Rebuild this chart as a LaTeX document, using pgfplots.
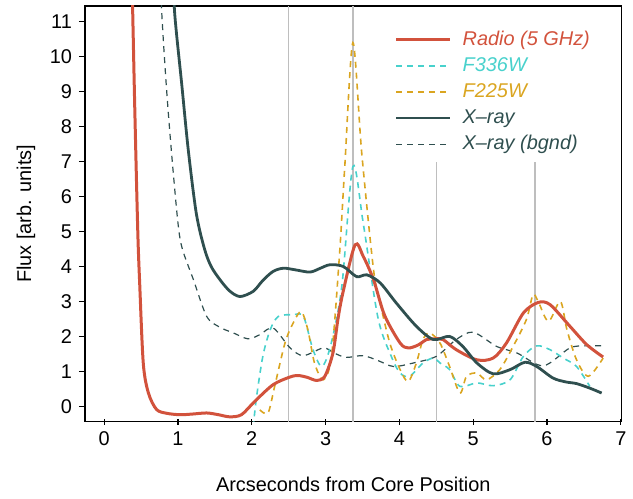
\documentclass[border=0pt]{standalone}
\usepackage{pgfplots}
\pgfplotsset{compat=1.18}
\usepackage{fontspec}
\setmainfont{Liberation Sans}

\definecolor{radio}{RGB}{210,82,60}
\definecolor{fcyan}{RGB}{72,209,204}
\definecolor{fgold}{RGB}{218,165,32}
\definecolor{xray}{RGB}{47,79,79}
\definecolor{vline}{RGB}{190,190,190}

\begin{document}
\begin{tikzpicture}
\begin{axis}[
    scale only axis,
    width=268.5bp, height=208bp,
    xmin=-0.26, xmax=7.01,
    ymin=-0.44, ymax=11.45,
    xtick={0,...,7}, ytick={0,...,11},
    xtick pos=bottom, ytick pos=left,
    xtick align=center, ytick align=outside,
    major tick length=3bp,
    tick style={black, line width=0.6bp},
    axis line style={line width=0.7bp},
    /pgf/number format/assume math mode=true,
    xlabel={Arcseconds from Core Position},
    ylabel={Flux [arb. units]},
    xlabel style={at={(axis description cs:0.5,-0.151)}, anchor=center},
    ylabel style={at={(axis description cs:-0.11,0.5)}, anchor=center},
    legend style={at={(axis cs:3.85,10.98)}, anchor=north west, draw=none, fill=none,
        font=\itshape, row sep=0.6bp, nodes={inner sep=2bp},
        /tikz/every odd column/.append style={column sep=3.5bp}},
    legend cell align=left,
    legend image code/.code={\draw[#1] (0bp,0bp) -- (27bp,0bp);},
    smooth, tension=0.5,
]
% legend entries
\addlegendimage{radio, line width=1.5bp}
\addlegendentry{\textcolor{radio}{Radio (5 GHz)}}
\addlegendimage{fcyan, line width=0.8bp, dash pattern=on 3bp off 2.5bp}
\addlegendentry{\textcolor{fcyan}{F336W}}
\addlegendimage{fgold, line width=0.8bp, dash pattern=on 3bp off 2.5bp}
\addlegendentry{\textcolor{fgold}{F225W}}
\addlegendimage{xray, line width=1.4bp}
\addlegendentry{\textcolor{xray}{X--ray}}
\addlegendimage{xray, line width=0.6bp, dash pattern=on 3bp off 2.5bp}
\addlegendentry{\textcolor{xray}{X--ray (bgnd)}}

% knot markers
\addplot[vline, line width=0.75bp, sharp plot, forget plot] coordinates {(2.5,-0.44) (2.5,11.45)};
\addplot[vline, line width=0.75bp, sharp plot, forget plot] coordinates {(3.37,-0.44) (3.37,11.45)};
\addplot[vline, line width=0.75bp, sharp plot, forget plot] coordinates {(4.5,-0.44) (4.5,7.0)};
\addplot[vline, line width=0.75bp, sharp plot, forget plot] coordinates {(5.84,-0.44) (5.84,7.0)};

% X-ray background
\addplot[xray, line width=0.6bp, dash pattern=on 3bp off 2.5bp, forget plot] coordinates {
(0.765,12.5) (0.78,11.29) (0.84,9.24) (0.91,7.33) (1.0,5.25) (1.06,4.5) (1.21,3.62)
(1.39,2.57) (1.57,2.26) (1.75,2.1) (1.95,1.93) (2.11,2.05) (2.29,2.24) (2.52,1.67)
(2.70,1.45) (2.97,1.67) (3.12,1.52) (3.28,1.4) (3.51,1.45) (3.72,1.3) (3.92,1.14)
(4.19,1.24) (4.50,1.43) (4.77,1.91) (5.0,2.12) (5.32,1.71) (5.59,1.53) (5.95,1.16)
(6.31,1.67) (6.54,1.73) (6.76,1.73)};

% F336W
\addplot[fcyan, line width=0.8bp, dash pattern=on 3bp off 2.5bp, forget plot] coordinates {
(2.02,-0.6) (2.06,0.19) (2.15,1.43) (2.25,2.19) (2.36,2.57) (2.56,2.62) (2.70,2.57)
(2.83,1.62) (2.95,1.14) (3.07,1.75) (3.22,3.43) (3.37,6.86) (3.51,5.24) (3.71,2.53)
(3.89,1.43) (4.01,0.95) (4.14,0.86) (4.32,1.24) (4.46,1.38) (4.55,1.24) (4.68,1.05)
(4.82,0.57) (5.05,0.67) (5.27,0.59) (5.50,0.76) (5.68,1.43) (5.86,1.73) (6.04,1.62)
(6.22,1.38) (6.40,1.14) (6.58,0.57)};

% F225W
\addplot[fgold, line width=0.8bp, dash pattern=on 3bp off 2.5bp, forget plot] coordinates {
(2.11,-0.1) (2.22,-0.19) (2.31,0.57) (2.45,1.81) (2.56,2.38) (2.67,2.71) (2.76,2.19)
(2.85,1.24) (2.97,0.76) (3.08,1.43) (3.19,4.38) (3.26,6.86) (3.37,10.4) (3.49,7.24)
(3.65,3.9) (3.74,2.95) (3.87,1.81) (4.01,1.05) (4.12,0.71) (4.23,1.24) (4.32,1.91)
(4.41,2.1) (4.55,1.81) (4.68,1.14) (4.82,0.38) (4.91,0.86) (5.05,0.95) (5.18,0.76)
(5.36,1.05) (5.54,1.71) (5.72,2.48) (5.81,3.19) (5.88,3.0) (6.02,2.43) (6.18,3.0)
(6.27,2.19) (6.40,1.33) (6.56,0.86) (6.76,1.38)};

% Radio (5 GHz)
\addplot[radio, line width=1.5bp, forget plot] coordinates {
(0.375,12.5) (0.41,9.0) (0.44,6.3) (0.46,4.7) (0.48,3.6) (0.53,1.24) (0.60,0.38)
(0.71,-0.09) (0.85,-0.2) (1.03,-0.24) (1.2,-0.22) (1.39,-0.19) (1.55,-0.24)
(1.70,-0.30) (1.86,-0.24) (2.04,0.14) (2.29,0.62) (2.52,0.84) (2.63,0.88) (2.75,0.83)
(2.88,0.74) (2.99,0.86) (3.10,1.53) (3.17,2.53) (3.24,3.3) (3.40,4.62) (3.51,4.29)
(3.65,3.62) (3.80,2.6) (4.01,1.81) (4.12,1.67) (4.25,1.75) (4.37,1.91) (4.48,1.93)
(4.59,1.91) (4.77,1.62) (5.05,1.33) (5.27,1.38) (5.45,1.81) (5.68,2.67) (5.88,2.97)
(6.04,2.91) (6.31,2.29) (6.54,1.76) (6.76,1.41)};

% X-ray
\addplot[xray, line width=1.4bp, forget plot] coordinates {
(0.94,12.5) (0.95,11.45) (0.98,10.67) (1.05,9.24) (1.14,7.33) (1.25,5.5) (1.36,4.5)
(1.45,4.0) (1.57,3.62) (1.7,3.3) (1.84,3.14) (2.02,3.29) (2.15,3.6) (2.29,3.86)
(2.43,3.95) (2.6,3.9) (2.79,3.84) (2.93,3.95) (3.06,4.05) (3.24,4.0) (3.42,3.71)
(3.56,3.76) (3.74,3.53) (3.96,2.95) (4.23,2.29) (4.46,1.91) (4.68,2.0) (4.86,1.71)
(5.05,1.24) (5.27,0.93) (5.50,1.05) (5.70,1.26) (5.86,1.14) (6.08,0.81) (6.25,0.7)
(6.40,0.65) (6.58,0.52) (6.74,0.38)};
\end{axis}
\path ([xshift=-42.5bp,yshift=-36.5bp]current axis.south west) rectangle ([xshift=5.5bp,yshift=3bp]current axis.north east);
\end{tikzpicture}
\end{document}
